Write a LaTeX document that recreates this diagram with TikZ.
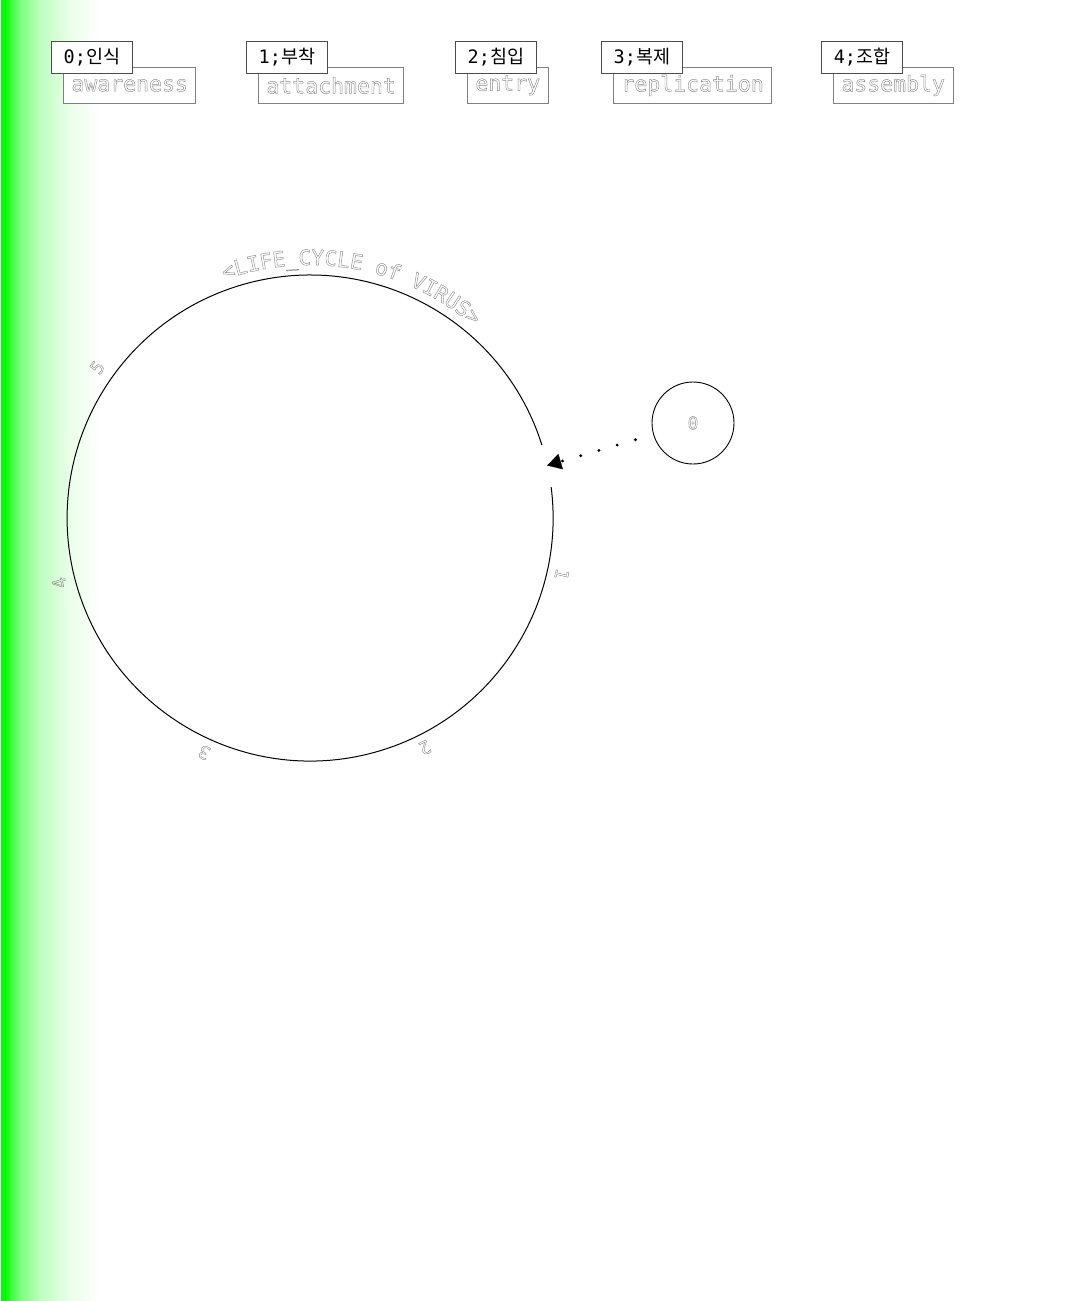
\documentclass[tikz,border=0pt]{standalone}
\usepackage{fontspec}
\usetikzlibrary{positioning,arrows.meta,decorations.text,calc}
\newfontfamily\monofont{DejaVu Sans Mono}
\newfontfamily\krfont{Noto Sans CJK KR}
% hollow grey letters: stroke only
\newcommand{\outlon}{\color{black!45}\special{pdf:literal direct 1 Tr 0.45 w}}
\newcommand{\outloff}{\special{pdf:literal direct 0 Tr}}
\newcommand{\outl}[1]{{\outlon#1\outloff}}
\newcommand{\titlefmt}{\monofont\fontsize{21}{21}\selectfont\outlon}
\pgfdeclarehorizontalshading{greenfade}{100bp}{color(0bp)=(green);
  color(25bp)=(green); color(27bp)=(green); color(30bp)=(green!75);
  color(35bp)=(green!50); color(45bp)=(green!25); color(60bp)=(green!8);
  color(75bp)=(white); color(100bp)=(white)}

\begin{document}
\begin{tikzpicture}[x=1pt, y=1pt,
  tab/.style={draw=black!70, fill=white, line width=0.8pt, minimum width=81pt,
    minimum height=32pt, inner sep=0pt, anchor=north west,
    font=\fontsize{18.5}{18.5}\selectfont},
  stage/.style={draw=black!50, fill=white, line width=0.8pt, minimum height=36pt,
    inner xsep=8pt, inner ysep=0pt, anchor=north west,
    font=\monofont\fontsize{21.5}{21.5}\selectfont},
  num/.style={font=\monofont\fontsize{18}{18}\selectfont},
  arr/.style={-{Triangle[length=14pt, width=16pt, line width=0.1pt]}, line width=3.2pt,
    line cap=round, dash pattern=on 0pt off 19pt, dash phase=0.5pt},
]
\useasboundingbox (0,0) rectangle (1083,-1301);
% green band on the left
\shade[shading=greenfade] (1,0) rectangle (100,-1301);

% stage labels along the top
\foreach \px/\n/\kor/\eng in {51/0/인식/awareness, 246/1/부착/attachment,
    455/2/침입/entry, 601/3/복제/replication, 821/4/조합/assembly} {
  \node[stage] (stage\n) at (\px+12,-67) {\outl{\eng}};
  \node[tab] (tab\n) at (\px,-41) {{\monofont\n;}{\krfont\kor}};
}

% life cycle circle, open where the virus comes in
\node[circle, minimum size=486pt, inner sep=0pt, outer sep=0pt] (cycle) at (309.5,-516) {};
\draw[line width=1pt] (cycle.17.5) arc[start angle=17.5, end angle=367.3, radius=243];
\path[decorate, decoration={text along path, text align=center,
    text={|\titlefmt|<LIFE{\_}CYCLE of VIRUS>}}]
  ([shift={(140:251)}]cycle.center) arc[start angle=140, end angle=19, radius=251];
\foreach \ang/\n in {-13/1, -63.5/2, -114/3, -165/4, 145/5}
  \node[num, rotate=\ang-90] (lbl\n) at ($(cycle.center)+(\ang:259)$) {\outl{\n}};

% the virus
\node[circle, draw, line width=0.9pt, minimum size=82pt, inner sep=0pt, num] (virus)
  at (693,-423) {\outl{0}};
\draw[arr] (virus) -- (cycle.12.6);
\end{tikzpicture}
\end{document}
